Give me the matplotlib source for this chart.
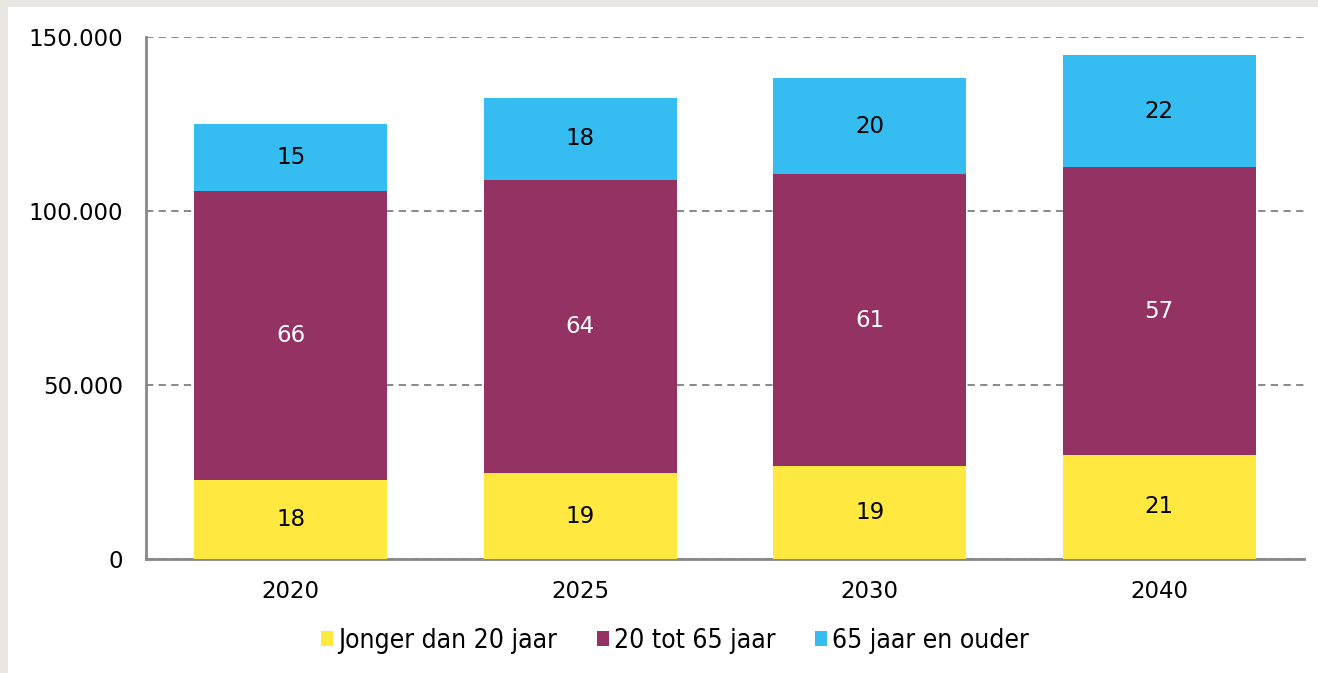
import matplotlib
matplotlib.use("Agg")
import matplotlib.pyplot as plt
from matplotlib.patches import Rectangle
from matplotlib.ticker import FuncFormatter

years = ["2020", "2025", "2030", "2040"]
jong = [22700, 24700, 26700, 29900]
midden = [83000, 84200, 83900, 82700]
oud = [19300, 23600, 27600, 32200]
# Percentages getoond in de balken
pct_jong = [18, 19, 19, 21]
pct_midden = [66, 64, 61, 57]
pct_oud = [15, 18, 20, 22]

series_names = ["Jonger dan 20 jaar", "20 tot 65 jaar", "65 jaar en ouder"]
colors = ["#FFE83F", "#943264", "#35BDF2"]

plt.rcParams['font.family'] = ['DejaVu Sans']

fig = plt.figure(figsize=(13.18, 6.73), dpi=100, facecolor="#e9e7e4")
fig.patches.append(Rectangle((8 / 1318, 0), 1, 1 - 7 / 673, transform=fig.transFigure,
                             facecolor="white", edgecolor="none", zorder=-5))

ax = fig.add_axes([146 / 1318, 1 - 559 / 673, (1304 - 146) / 1318, (559 - 37) / 673])
ax.set_facecolor("white")

x = list(range(len(years)))
width = 0.665
bottoms = [0] * len(years)
for vals, pcts, col, name in zip([jong, midden, oud], [pct_jong, pct_midden, pct_oud], colors, series_names):
    bars = ax.bar(x, vals, width, bottom=bottoms, color=col, label=name, zorder=3)
    txtcol = "white" if col == "#943264" else "black"
    for b, p in zip(bars, pcts):
        ax.text(b.get_x() + b.get_width() / 2, b.get_y() + b.get_height() / 2, str(p),
                ha="center", va="center", fontsize=16.5, color=txtcol, zorder=4)
    bottoms = [bt + v for bt, v in zip(bottoms, vals)]

ax.set_xlim(-0.5, 3.5)
ax.set_ylim(0, 150000)
ax.set_yticks([0, 50000, 100000, 150000])
ax.yaxis.set_major_formatter(FuncFormatter(lambda v, _: f"{int(v):,}".replace(",", ".")))
ax.set_xticks(x)
ax.set_xticklabels(years)
ax.tick_params(axis="both", length=0, labelsize=16.5, colors="black")
ax.tick_params(axis="y", pad=16.5)
ax.tick_params(axis="x", pad=15)

ax.yaxis.grid(True, linestyle=(0, (4, 3)), color="#808080", linewidth=1.3, zorder=1)
ax.set_axisbelow(True)
for s in ["top", "right"]:
    ax.spines[s].set_visible(False)
for s in ["left", "bottom"]:
    ax.spines[s].set_color("#888888")
    ax.spines[s].set_linewidth(2)

leg = fig.legend(loc="center", bbox_to_anchor=(675 / 1318, 1 - 641 / 673), ncol=3, frameon=False,
                 handlelength=0.45, handleheight=0.5, handletextpad=0.2, columnspacing=1.5,
                 prop={"family": "DejaVu Sans", "stretch": "condensed", "size": 19})

fig.savefig("out.png", dpi=100, facecolor=fig.get_facecolor())
